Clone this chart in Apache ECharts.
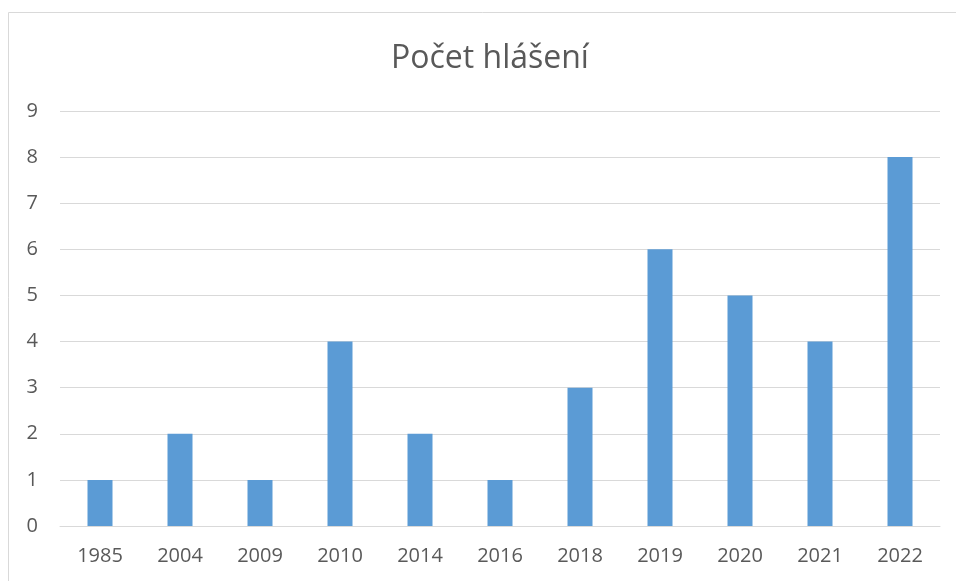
<!DOCTYPE html>
<html><head><meta charset="utf-8">
<script src="https://cdn.jsdelivr.net/npm/echarts@6/dist/echarts.min.js"></script>
<style>html,body{margin:0;padding:0;background:#fff}#c{width:956px;height:581px}</style>
</head><body><div id="c"></div>
<script>
const categories = ['1985','2004','2009','2010','2014','2016','2018','2019','2020','2021','2022'];
const values = [1,2,1,4,2,1,3,6,5,4,8];
const titleText = 'Počet hlášení';
const font = '"Open Sans", Lato, sans-serif';
const chart = echarts.init(document.getElementById('c'));
chart.setOption({
  animation: false,
  title: {text: titleText, left: 386, top: 38, textStyle: {fontFamily: font, fontSize: 32, fontWeight: 'normal', color: '#595959'}},
  graphic: [{type: 'rect', shape: {x: 8.5, y: 12.5, width: 1000, height: 1000}, style: {fill: 'none', stroke: '#d9d9d9', lineWidth: 1}, silent: true}],
  grid: {left: 60, right: 16, top: 111, bottom: 55},
  xAxis: {type: 'category', data: categories,
    axisLine: {lineStyle: {color: '#d9d9d9'}}, axisTick: {show: false},
    axisLabel: {fontFamily: font, fontSize: 20, color: '#595959', margin: 20}},
  yAxis: {type: 'value', min: 0, max: 9, interval: 1,
    axisLine: {show: false}, axisTick: {show: false},
    splitLine: {lineStyle: {color: '#d9d9d9'}},
    axisLabel: {fontFamily: font, fontSize: 20, color: '#595959', margin: 22}},
  series: [{type: 'bar', data: values, barWidth: 25, itemStyle: {color: '#5b9bd5'}}]
});
</script></body></html>
